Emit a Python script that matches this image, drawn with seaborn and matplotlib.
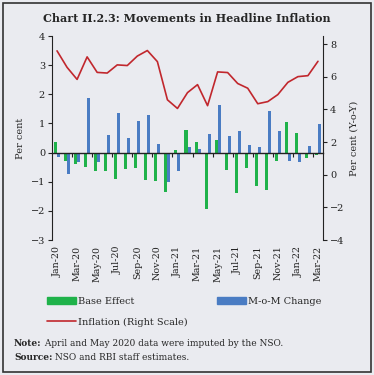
# Chart II.2.3: Movements in Headline Inflation

import numpy as np
import pandas as pd
import seaborn as sns
import matplotlib
matplotlib.use('Agg')
from matplotlib import pyplot as plt
from matplotlib.patches import Rectangle, Patch
from matplotlib.lines import Line2D

# data
months = ['Jan-20', 'Feb-20', 'Mar-20', 'Apr-20', 'May-20', 'Jun-20', 'Jul-20', 'Aug-20', 'Sep-20',
          'Oct-20', 'Nov-20', 'Dec-20', 'Jan-21', 'Feb-21', 'Mar-21', 'Apr-21', 'May-21', 'Jun-21',
          'Jul-21', 'Aug-21', 'Sep-21', 'Oct-21', 'Nov-21', 'Dec-21', 'Jan-22', 'Feb-22', 'Mar-22']
base_effect = [0.37, -0.29, -0.40, -0.51, -0.63, -0.64, -0.89, -0.57, -0.53, -0.94, -0.98, -1.35, 0.10,
               0.76, 0.35, -1.92, 0.42, -0.60, -1.40, -0.53, -1.14, -1.28, -0.30, 1.05, 0.67, -0.18, -0.09]
mom_change = [-0.15, -0.74, -0.34, 1.88, -0.34, 0.59, 1.37, 0.51, 1.08, 1.28, 0.31, -1.00, -0.64,
              0.18, 0.13, 0.63, 1.64, 0.57, 0.74, 0.25, 0.18, 1.42, 0.73, -0.30, -0.32, 0.24, 0.97]
inflation = [7.59, 6.58, 5.84, 7.22, 6.27, 6.23, 6.73, 6.69, 7.27, 7.61, 6.93, 4.59, 4.06, 5.03,
             5.52, 4.23, 6.30, 6.26, 5.59, 5.30, 4.35, 4.48, 4.91, 5.66, 6.01, 6.07, 6.95]
label_months = months[::2]

green = '#1fb24a'
blue = '#4a7cc3'
red = '#c1272d'
bg = '#eaebf0'

sns.set_theme(style='ticks')
plt.rcParams['font.family'] = ['DejaVu Serif']
plt.rcParams['axes.edgecolor'] = '#222222'
plt.rcParams['xtick.color'] = '#222222'
plt.rcParams['ytick.color'] = '#222222'

W, H = 374, 375
n = len(months)
rect = [52 / W, 1 - 240 / H, 271 / W, 204 / H]
fig = plt.figure(figsize=(W / 100, H / 100), dpi=100, facecolor=bg)
ax = fig.add_axes(rect)
ax.set_facecolor(bg)

df = pd.DataFrame({'month': months * 2,
                   'value': base_effect + mom_change,
                   'series': ['Base Effect'] * n + ['M-o-M Change'] * n})
sns.barplot(data=df, x='month', y='value', hue='series', palette=[green, blue], width=0.6,
            gap=0, dodge=True, saturation=1, legend=False, linewidth=0, edgecolor='none', ax=ax)

ax.set_xlim(-0.5, n - 0.5)
ax.set_ylim(-3, 4)
ax.set_yticks(range(-3, 5))
ax.tick_params(axis='y', labelsize=7, length=3, width=0.8, pad=2)
ax.spines['top'].set_visible(False)
ax.spines['right'].set_visible(False)
ax.spines['bottom'].set_position(('data', 0))
ax.spines['bottom'].set_linewidth(1.0)
ax.spines['left'].set_linewidth(0.8)
ax.set_xticks(np.arange(1.5, n - 1, 2))
ax.set_xticklabels([])
ax.tick_params(axis='x', length=3, width=0.8)
ax.set_xlabel('')
ax.set_ylabel('Per cent', fontsize=7, labelpad=4)

# separate (not shared) axes for the line on the right scale and the month labels
ax2 = fig.add_axes(rect)
ax2.patch.set_visible(False)
sns.lineplot(x=np.arange(n), y=inflation, color=red, linewidth=1.2, ax=ax2)
ax2.set_xlim(-0.5, n - 0.5)
ax2.set_ylim(-4, 8.5)
ax2.yaxis.tick_right()
ax2.yaxis.set_label_position('right')
ax2.set_yticks(range(-4, 9, 2))
ax2.tick_params(axis='y', labelsize=7, length=3, width=0.8, pad=2)
for s in ['top', 'left', 'bottom']:
    ax2.spines[s].set_visible(False)
ax2.spines['right'].set_linewidth(0.8)
ax2.set_ylabel('Per cent (Y-o-Y)', fontsize=7, labelpad=4)
ax2.set_xticks(np.arange(0, n, 2))
ax2.set_xticklabels(label_months, rotation=90, fontsize=6.8)
ax2.tick_params(axis='x', length=0, pad=4)

handles = [Patch(color=green, label='Base Effect'),
           Line2D([], [], color=red, lw=1.2, label='Inflation (Right Scale)'),
           Patch(color=blue, label='M-o-M Change')]
fig.legend(handles=handles, ncol=2, loc='upper left', bbox_to_anchor=(42 / W, 1 - 292 / H),
           frameon=False, fontsize=7, handlelength=3.0, handleheight=0.6, handletextpad=0.2,
           columnspacing=3.0, labelspacing=1.2, borderpad=0)

fig.text(0.5, 1 - 19 / H, 'Chart II.2.3: Movements in Headline Inflation', ha='center', va='center',
         fontsize=8, weight='bold')

note = fig.text(14 / W, 1 - 343 / H, 'Note:', fontsize=6.5, weight='bold', va='center')
ax.annotate(' April and May 2020 data were imputed by the NSO.', xy=(1, 0.5), xycoords=note,
            va='center', fontsize=6.5)
src = fig.text(14 / W, 1 - 358 / H, 'Source:', fontsize=6.5, weight='bold', va='center')
ax.annotate(' NSO and RBI staff estimates.', xy=(1, 0.5), xycoords=src, va='center', fontsize=6.5)

fig.patches.append(Rectangle((3 / W, 3 / H), 368 / W, 369 / H, transform=fig.transFigure,
                             fill=False, edgecolor='#333333', linewidth=1.2))

fig.savefig('out.png', dpi=100, facecolor=bg)
